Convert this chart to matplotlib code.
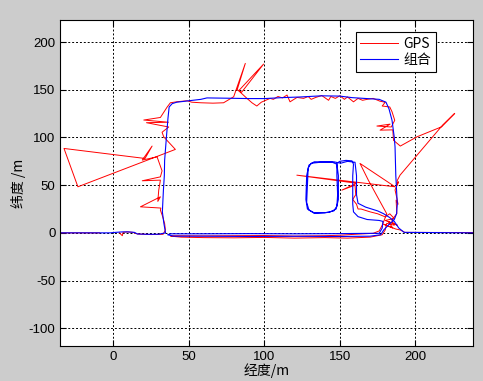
import numpy as np
import matplotlib
matplotlib.use("Agg")
import matplotlib.pyplot as plt

plt.rcParams['font.family'] = ['Liberation Sans', 'Noto Sans CJK SC', 'DejaVu Sans']
plt.rcParams['axes.unicode_minus'] = False

# GPS track (east m, north m); NaN = gap
gps_x = [-35, -9, np.nan,
         4, 5, 6, 6.5, 9, 13, 16, 25, 33, 34.5, 34, 32.5, 31.2, 31.5, 18, 31.2, 29.5, 30.1,
         31.2, 19.2, 31.2, 32.3, 29, 19.2, 25.7, 21, -32.6, -23.4, 41.1, 33.4, 32.3, 36.7,
         22, 36.5, 20.2, 31.2, 35.7, 37.8, 42.3, 48.9, 52, 58, 66, 73, 79.7, 87.4, 82, 85,
         99.5, 83, 88.5, 91.8, 95, 98, 103.8, 106, 109, 112, 115, 117, 121.6, 126, 129, 131,
         134, 138, 142.5, 144, 147, 150, 153, 155, 159, 162, 165, 168, 172, 176.6, 180,
         178, 183, 184.5, 186.3, 184, 174.5, 183.2, 176.6, 185, 185.5, 190, 201, 217.3,
         226, 218, 189.8, 188, 187.7, 188.8, 186.5, 187.2, 188.5, 187.2, 187.7, 184.4, 186,
         181, 180, 178, 170, 155, 140, 120, 100, 80, 60, 45, 38, 40, 60, 80, 100, 120, 140,
         150, 160, 172, 176, 178, 181, 168.8, 163.3, 186.5, 121.5, 161, 151.3, 160, 160.5,
         158.5, 161, 162, 164, 170, 175, 179.9, 183, 186, 180, 188, 182, 185, 179, 187,
         190, 193, 238]
gps_y = [0, 0, np.nan,
         0.3, -1.5, -3, 0.5, 1, 0.5, -1.2, -1.8, -1.5, 3, 9.8, 18, 23.8, 26, 27.3, 37.8, 33, 44.8,
         55.3, 54.6, 58.7, 65, 79.7, 76.3, 91, 78, 88.5, 48.3, 87.5, 100.7, 105.5, 111,
         115.5, 116, 118.3, 121, 132, 136.4, 137.5, 138.5, 137, 136.4, 136, 136.4, 142.7, 177.7, 150, 147.5,
         177, 149, 141, 136.4, 133, 137, 141, 140, 143, 141.5, 144.5, 137.4, 142, 141, 143, 140,
         142, 144, 139, 143, 141, 143.8, 140, 142.5, 137.4, 141, 139, 140, 141, 138, 137,
         133, 132, 127, 118, 111, 112, 114, 107.7, 108, 97, 91, 100.7, 111.2,
         125.3, 113, 60.5, 55, 50, 53.5, 45, 40, 30, 34.3, 20.3, 13.3, 8,
         10, 3, -2, -4.5, -5.5, -5, -5.5, -4.8, -5.2, -5, -4.5, -3.5, -3, -3.2, -3, -2.8, -3.4, -3,
         -2.5, -1.5, -0.5, 2, 8, 20, 55.3, 72.8, 48.3, 60.5, 52, 44.8, 50, 40,
         35, 30, 25, 25, 22, 20, 16.8, 20, 15, 13, 8, 12, 5, 9, 4,
         3, 0.5, 0.3]

# integrated (GPS/INS) track
ins_x = [-35, -2, 0, 4, 6, 10, 14, 16, 22, 30, 34.6, 33.5, 32.5, 33.2, 33.8, 34, 35.2,
         36.2, 37, 39, 42, 50, 58, 62, 75, 90, 100, 112, 124, 132, 138, 150, 158, 166,
         176, 180.5, 182.5, 184.5, 186, 186.5, 187, 187.5, 188, 187.5, 186, 182, 179, 177,
         170, 150, 120, 90, 60, 40, 36, 38, 60, 90, 120, 150, 170, 176, 178, 178.5, 176,
         168, 162, 159, 158.5, 158.5, 159, 158, 154, 150, 148, 148, 148.5, 148, 146, 140,
         133, 129.5, 128, 128.5, 129, 131, 137, 145, 148, 149, 149, 147.5, 143, 133, 128.5,
         127.5, 128, 129.5, 133, 146, 150.5, 155, 160, 161, 161, 162, 167, 175, 179, 183,
         186, 189, 192.5, 238]
ins_y = [0, 0, 0.3, 0.8, 1, 1, 0.5, -1.2, -1.5, -1.5, 0, 10, 22, 45, 60, 76, 100.7,
         120, 132, 135.5, 137, 138.5, 140, 141.5, 141.2, 140.8, 140.8, 141.8, 142.5, 143.2,
         143.7, 143.4, 141.8, 141, 140, 137, 130, 118, 100, 90, 60, 45, 30, 20, 14, 8, 3,
         -2, -3.5, -3.8, -3.6, -3.8, -3.5, -3.5, -2, -1, -1, -0.8, -1, -0.8, -0.5, -0.5,
         5, 12, 13, 14, 17, 22, 30, 60, 72, 75.5, 76, 75, 73, 60, 40, 28, 23, 21, 21, 24,
         32, 50, 68, 73, 74, 74, 72, 60, 35, 25, 21.5, 20.5, 25, 35, 60, 71, 74.5, 74.5,
         73, 75, 74, 60, 40, 31, 27, 23, 20, 16, 12, 5, 0.5, 0]

x_ticks = [0, 50, 100, 150, 200]
y_ticks = [-100, -50, 0, 50, 100, 150, 200]

fig = plt.figure(figsize=(4.83, 3.81), dpi=100, facecolor='#cccccc')
ax = fig.add_axes([0.125, 0.091, 0.854, 0.856])
ax.set_facecolor('white')

ax.plot(gps_x, gps_y, color='red', lw=0.7, label='GPS')
ax.plot(ins_x, ins_y, color='blue', lw=0.8, label='组合')

ax.set_xlim(-35, 238)
ax.set_ylim(-119, 223)
ax.set_xticks(x_ticks)
ax.set_yticks(y_ticks)
ax.grid(True, color='black', linestyle=(0, (2, 2)), linewidth=0.7)
ax.tick_params(direction='in', labelsize=9.5, top=True, right=True, length=4)
for s in ax.spines.values():
    s.set_linewidth(0.8)

cjk = ['Noto Sans CJK SC', 'DejaVu Sans']
ax.set_xlabel('经度/m', fontsize=10, family=cjk, labelpad=0)
ax.set_ylabel('纬度 /m', fontsize=10, family=cjk, labelpad=2)

leg = ax.legend(loc='upper right', bbox_to_anchor=(0.911, 0.964), borderaxespad=0,
                fancybox=False, framealpha=1, edgecolor='black', handlelength=2.7,
                handletextpad=0.4, borderpad=0.35, labelspacing=0.15,
                prop={'family': cjk, 'size': 10})
leg.get_frame().set_linewidth(0.8)

fig.savefig('out.png', dpi=100, facecolor=fig.get_facecolor())
